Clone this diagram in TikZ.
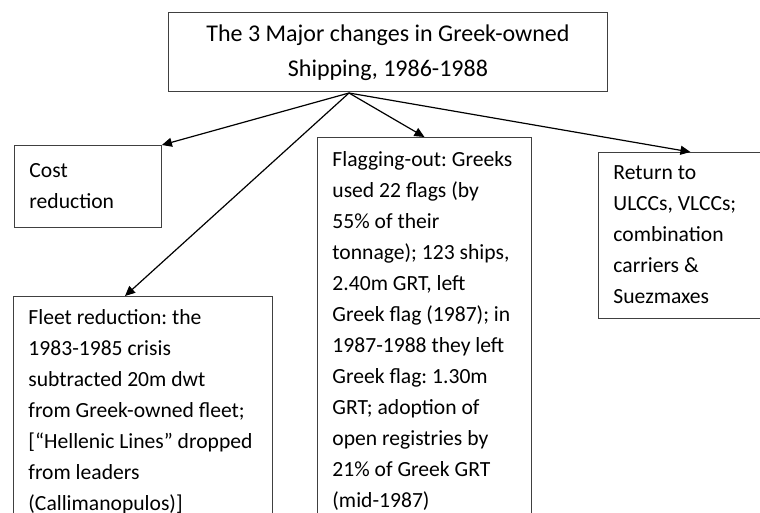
\documentclass[tikz,border=0pt]{standalone}
\usepackage{fontspec}
\setmainfont{Carlito}
\usetikzlibrary{arrows.meta}
\newcommand\plainspaces{\spaceskip=0pt\relax\xspaceskip=0pt\relax}

\begin{document}
\begin{tikzpicture}[x=1pt,y=-1pt,
    box/.style={draw=black!75,line width=0.9pt,anchor=north west,align=flush left,
        inner xsep=15pt,inner ysep=0pt,font=\fontsize{21.6}{31}\selectfont\frenchspacing,
        execute at begin node=\plainspaces},
    link/.style={-{Triangle[length=10pt,width=9pt]},line width=1.2pt}]

    \useasboundingbox (0,0) rectangle (760,512);

    \node[box,align=flush center,text width=409pt,minimum height=79pt,
        font=\fontsize{24}{35}\selectfont\frenchspacing] (T) at (168,12)
        {\strut The 3 Major changes in Greek-owned\\ Shipping, 1986-1988\strut};
    \node[box,text width=117pt,minimum height=82pt] (C) at (14,145)
        {\strut Cost\\ reduction\strut};
    \node[box,text width=229pt,minimum height=230pt] (F) at (13,296)
        {\strut Fleet reduction: the\\ 1983-1985 crisis\\ subtracted 20m dwt\\
         from Greek-owned fleet;\\ {[}“Hellenic Lines” dropped\\ from leaders\\
         (Callimanopulos)]\strut};
    \node[box,text width=184pt,minimum height=387pt] (G) at (317,137)
        {\strut Flagging-out: Greeks\\ used 22 flags (by\\ 55\% of their\\
         tonnage); 123 ships,\\ 2.40m GRT, left\\ Greek flag (1987); in\\
         1987-1988 they left\\ Greek flag: 1.30m\\ GRT; adoption of\\
         open registries by\\ 21\% of Greek GRT\\ (mid-1987)\strut};
    \node[box,text width=154pt,minimum height=166pt] (R) at (598,152)
        {\strut Return to\\ ULCCs, VLCCs;\\ combination\\ carriers \&\\ Suezmaxes\strut};

    \coordinate (O) at (349,93);

    \path [link] (O) edge (C.north east);
    \path [link] (O) edge ([xshift=112pt]F.north west);
    \path [link] (O) edge (G.north);
    \path [link] (O) edge (R.north);
\end{tikzpicture}
\end{document}
